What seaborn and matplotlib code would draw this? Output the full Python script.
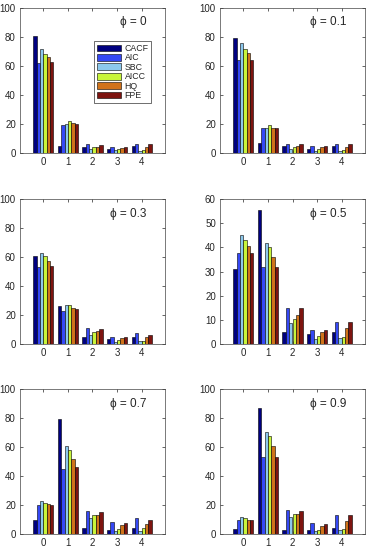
import seaborn as sns
import pandas as pd
import matplotlib.pyplot as plt

# Data: % of selected lag per method
methods = ['CACF', 'AIC', 'SBC', 'AICC', 'HQ', 'FPE']
lags = ['0', '1', '2', '3', '4']
phis = ['0', '0.1', '0.3', '0.5', '0.7', '0.9']
colors = ['#000080', '#3548f5', '#8cc8ec', '#c8f53a', '#d0731a', '#7e1410']

# rows = lags, columns = methods
phi_00 = [[81, 62, 72, 68, 66, 63],
          [5, 19, 20, 22, 21, 20],
          [4, 6, 3, 4, 4, 5.5],
          [3, 4, 2, 3, 3.5, 4],
          [5, 6.5, 1.5, 2, 4, 6]]
phi_01 = [[79, 64, 76, 72, 69, 64],
          [7, 17, 17, 19.5, 17, 17],
          [4.5, 6, 3, 4, 5, 6],
          [3, 5, 1.5, 2.5, 4, 5],
          [5, 6, 1.5, 2, 4, 6]]
phi_03 = [[61, 53, 63, 61, 57, 54],
          [26, 23, 27, 27, 25, 24],
          [5, 11, 6, 8, 9, 10.5],
          [3.5, 5, 1.5, 2.5, 4, 5],
          [5, 7.5, 2, 2, 5, 6.5]]
phi_05 = [[31, 37.5, 45, 43, 40.5, 37.5],
          [55.5, 32, 42, 40, 36, 32],
          [5, 15, 8.5, 10.5, 12, 15],
          [4, 6, 2, 3.5, 5, 6],
          [5, 9, 2.5, 3, 6.5, 9]]
phi_07 = [[10, 20, 22.5, 21.5, 21, 20],
          [79, 45, 61, 58, 52, 46],
          [4, 16, 11, 13, 13, 15.5],
          [3, 8.5, 2, 3.5, 6.5, 7.5],
          [4, 11, 2, 4, 7, 10]]
phi_09 = [[3.5, 9.5, 11.5, 11, 10, 9.5],
          [87, 53, 70.5, 67.5, 61, 53],
          [3, 16.5, 12, 14, 14, 16],
          [2.5, 7.5, 2, 3, 5.5, 7],
          [4, 13, 2.5, 3.5, 9, 13]]
panels = [phi_00, phi_01, phi_03, phi_05, phi_07, phi_09]
ylims = [100, 100, 100, 60, 100, 100]

sns.set_style('ticks')
plt.rcParams['font.family'] = ['Liberation Sans', 'DejaVu Sans']

fig = plt.figure(figsize=(3.73, 5.5), dpi=100)
W, H = 373, 550
lefts = [20, 220]
tops = [8, 199, 389]
aw, ah = 145, 145

for i, (phi, vals, ymax) in enumerate(zip(phis, panels, ylims)):
    r, c = divmod(i, 2)
    ax = fig.add_axes([lefts[c] / W, 1 - (tops[r] + ah) / H, aw / W, ah / H])
    rows = []
    for li, lag in enumerate(lags):
        for mi, m in enumerate(methods):
            rows.append({'lag': lag, 'method': m, 'pct': vals[li][mi]})
    df = pd.DataFrame(rows)
    sns.barplot(data=df, x='lag', y='pct', hue='method', hue_order=methods,
                order=lags, palette=colors, width=0.82, edgecolor='black',
                linewidth=0.4, saturation=1, ax=ax, legend=(i == 0))
    ax.set_xlim(-0.95, 4.95)
    ax.set_ylim(0, ymax)
    ax.set_yticks(range(0, ymax + 1, 10 if ymax == 60 else 20))
    ax.set_xlabel('')
    ax.set_ylabel('')
    ax.tick_params(direction='in', length=2.5, width=0.5, labelsize=7, pad=3,
                   top=True, right=True)
    for s in ax.spines.values():
        s.set_linewidth(0.5)
        s.set_color('#444444')
    ax.text(0.87, 0.9, '\u03d5 = ' + phi, transform=ax.transAxes,
            ha='right', va='center', fontsize=8.5)
    if i == 0:
        ax.legend(loc='upper left', bbox_to_anchor=(0.51, 0.77), fontsize=6.3,
                  frameon=True, fancybox=False, edgecolor='black',
                  handlelength=2.8, handleheight=0.8, handletextpad=0.4,
                  labelspacing=0.05, borderpad=0.3, borderaxespad=0)
        ax.get_legend().get_frame().set_linewidth(0.5)

fig.savefig('out.png', dpi=100)
